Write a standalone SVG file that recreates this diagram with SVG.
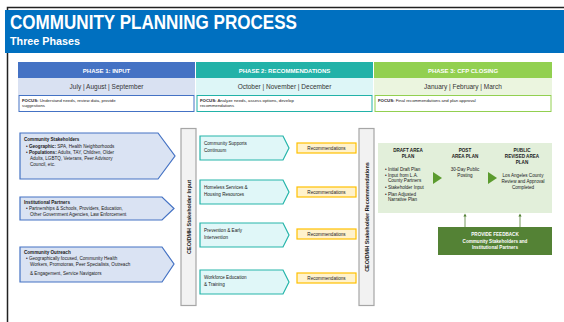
<svg xmlns="http://www.w3.org/2000/svg" width="564" height="322" viewBox="0 0 564 322">
<style>
text{font-family:"Liberation Sans",Arial,sans-serif}
.hd{fill:#fff;font-weight:bold;font-size:6px;text-anchor:middle}
.mo{fill:#333;font-size:6.5px;text-anchor:middle}
.fc{fill:#222;font-size:4.3px}
.sm{fill:#1a1a1a;font-size:4.6px}
.b{font-weight:bold}
.lb{fill:#DAE3F3;stroke:#4472C4;stroke-width:1.2}
.tl{fill:#E0F7F8;stroke:#26B5AA;stroke-width:1.2}
.yl{fill:#FFF2CC;stroke:#FFC000;stroke-width:1.2}
.vb{fill:#F2F2F2;stroke:#A6A6A6;stroke-width:1.2}
.vt{fill:#1a1a1a;font-size:5.5px;font-weight:bold;text-anchor:middle}
.gw{fill:#fff;font-weight:bold;font-size:4.6px;text-anchor:middle}
</style>
<defs>
<marker id="ah" viewBox="0 0 6 6" refX="3" refY="3" markerWidth="4" markerHeight="4" orient="auto"><path d="M0,0L6,3L0,6Z" fill="#548235"/></marker>
</defs>
<rect width="564" height="322" fill="#fff"/>
<rect x="7.5" y="7.5" width="570" height="320" fill="none" stroke="#222" stroke-width="1.5"/>
<g id="title">
<rect x="5" y="10" width="559" height="43" fill="#0070C0"/>
<text x="10" y="29" fill="#fff" font-weight="bold" font-size="19.5" textLength="287" lengthAdjust="spacingAndGlyphs">COMMUNITY PLANNING PROCESS</text>
<text x="10" y="45" fill="#fff" font-weight="bold" font-size="10" textLength="70" lengthAdjust="spacingAndGlyphs">Three Phases</text>
</g>
<g id="phase1">
<rect x="18" y="62" width="177" height="16" fill="#4472C4"/>
<text class="hd" x="106.5" y="72.5">PHASE 1: INPUT</text>
<rect x="18" y="78" width="177" height="17" fill="#D9E1F2"/>
<text class="mo" x="106.5" y="89">July  |  August  |  September</text>
<rect x="19" y="95.5" width="175" height="16" fill="#fff" stroke="#4472C4" stroke-width="1"/>
<text class="fc" x="22" y="101.5"><tspan class="b">FOCUS:</tspan> Understand needs, review data, provide</text>
<text class="fc" x="22" y="107">suggestions</text>
</g>
<g id="phase2">
<rect x="196" y="62" width="177" height="16" fill="#22B2A8"/>
<text class="hd" x="284.5" y="72.5">PHASE 2: RECOMMENDATIONS</text>
<rect x="196" y="78" width="177" height="17" fill="#DDF6F7"/>
<text class="mo" x="284.5" y="89">October  |  November  |  December</text>
<rect x="197" y="95.5" width="175" height="16" fill="#fff" stroke="#22B2A8" stroke-width="1"/>
<text class="fc" x="200" y="101.5"><tspan class="b">FOCUS:</tspan> Analyze needs, assess options, develop</text>
<text class="fc" x="200" y="107">recommendations</text>
</g>
<g id="phase3">
<rect x="374" y="62" width="178" height="16" fill="#92D050"/>
<text class="hd" x="463" y="72.5">PHASE 3: CFP CLOSING</text>
<rect x="374" y="78" width="178" height="17" fill="#EBF5DF"/>
<text class="mo" x="463" y="89">January  |  February  |  March</text>
<rect x="375" y="95.5" width="176" height="16" fill="#fff" stroke="#92D050" stroke-width="1"/>
<text class="fc" x="378" y="102"><tspan class="b">FOCUS:</tspan> Final recommendations and plan approval</text>
</g>
<g id="stakeholders">
<path class="lb" d="M20,133H158L175,156L158,179H20Z"/>
<text class="sm b" x="24" y="141">Community Stakeholders</text>
<text class="sm" x="26" y="148">• <tspan class="b">Geographic:</tspan> SPA, Health Neighborhoods</text>
<text class="sm" x="26" y="154">• <tspan class="b">Populations:</tspan> Adults, TAY, Children, Older</text>
<text class="sm" x="30" y="160">Adults, LGBTQ, Veterans, Peer Advisory</text>
<text class="sm" x="30" y="166">Council, etc.</text>
</g>
<g id="partners">
<path class="lb" d="M20,197H162L174,208.5L162,220H20Z"/>
<text class="sm b" x="24" y="204">Institutional Partners</text>
<text class="sm" x="26" y="210">• Partnerships &amp; Schools, Providers, Education,</text>
<text class="sm" x="30" y="216">Other Government Agencies, Law Enforcement</text>
</g>
<g id="outreach">
<path class="lb" d="M20,247H162L174,264L162,282H20Z"/>
<text class="sm b" x="24" y="254">Community Outreach</text>
<text class="sm" x="26" y="260">• Geographically focused, Community Health</text>
<text class="sm" x="30" y="266">Workers, Promotoras, Peer Specialists, Outreach</text>
<text class="sm" x="30" y="275">&amp; Engagement, Service Navigators</text>
</g>
<g id="bar1">
<rect class="vb" x="181" y="128.5" width="15" height="177"/>
<text class="vt" transform="translate(190.5,217) rotate(-90)">CEO/DMH Stakeholder Input</text>
</g>
<g id="continuum">
<path class="tl" d="M200,136H283L289,148L283,160H200Z"/>
<text class="sm" x="204" y="145">Community Supports</text>
<text class="sm" x="204" y="152">Continuum</text>
</g>
<g id="homeless">
<path class="tl" d="M200,180H283L289,192L283,204H200Z"/>
<text class="sm" x="204" y="189">Homeless Services &amp;</text>
<text class="sm" x="204" y="196">Housing Resources</text>
</g>
<g id="prevention">
<path class="tl" d="M200,223H283L289,235L283,247H200Z"/>
<text class="sm" x="204" y="232">Prevention &amp; Early</text>
<text class="sm" x="204" y="239">Intervention</text>
</g>
<g id="workforce">
<path class="tl" d="M200,270H283L289,282L283,294H200Z"/>
<text class="sm" x="204" y="279">Workforce Education</text>
<text class="sm" x="204" y="286">&amp; Training</text>
</g>
<g id="rec1"><rect class="yl" x="297" y="143" width="59" height="10"/><text class="sm" x="326.5" y="149.8" text-anchor="middle">Recommendations</text></g>
<g id="rec2"><rect class="yl" x="297" y="187" width="59" height="10"/><text class="sm" x="326.5" y="193.8" text-anchor="middle">Recommendations</text></g>
<g id="rec3"><rect class="yl" x="297" y="229" width="59" height="10"/><text class="sm" x="326.5" y="235.8" text-anchor="middle">Recommendations</text></g>
<g id="rec4"><rect class="yl" x="297" y="273" width="59" height="10"/><text class="sm" x="326.5" y="279.8" text-anchor="middle">Recommendations</text></g>
<g id="bar2">
<rect class="vb" x="359" y="128.5" width="15" height="177"/>
<text class="vt" transform="translate(368.5,217) rotate(-90)">CEO/DMH Stakeholder Recommendations</text>
</g>
<g id="closing">
<rect x="378" y="143" width="174" height="70" fill="#E2EFDA"/>
<text class="sm b" x="408" y="152" text-anchor="middle">DRAFT AREA</text>
<text class="sm b" x="408" y="158" text-anchor="middle">PLAN</text>
<text class="sm" x="385" y="171">• Initial Draft Plan</text>
<text class="sm" x="385" y="177">• Input from L.A.</text>
<text class="sm" x="388" y="182">County Partners</text>
<text class="sm" x="385" y="189">• Stakeholder Input</text>
<text class="sm" x="385" y="196">• Plan Adjusted</text>
<text class="sm" x="388" y="201">Narrative Plan</text>
<path d="M433,172L442,178L433,184Z" fill="#5B9B2E"/>
<text class="sm b" x="465" y="152" text-anchor="middle">POST</text>
<text class="sm b" x="465" y="158" text-anchor="middle">AREA PLAN</text>
<text class="sm" x="465" y="171" text-anchor="middle">30-Day Public</text>
<text class="sm" x="465" y="177" text-anchor="middle">Posting</text>
<path d="M488,172L497,178L488,184Z" fill="#5B9B2E"/>
<text class="sm b" x="522" y="152" text-anchor="middle">PUBLIC</text>
<text class="sm b" x="522" y="158" text-anchor="middle">REVISED AREA</text>
<text class="sm b" x="522" y="164" text-anchor="middle">PLAN</text>
<text class="sm" x="523" y="177" text-anchor="middle">Los Angeles County</text>
<text class="sm" x="523" y="183" text-anchor="middle">Review and Approval</text>
<text class="sm" x="523" y="189" text-anchor="middle">Completed</text>
</g>
<g id="connectors" stroke="#548235" stroke-width="0.8" fill="none">
<line x1="465" y1="227" x2="465" y2="215" marker-end="url(#ah)"/>
<line x1="520" y1="227" x2="520" y2="215" marker-end="url(#ah)"/>
</g>
<g id="feedback">
<rect x="438" y="227" width="114" height="28" fill="#548235"/>
<text class="gw" x="495" y="236">PROVIDE FEEDBACK</text>
<text class="gw" x="495" y="243" font-weight="normal">Community Stakeholders and</text>
<text class="gw" x="495" y="249" font-weight="normal">Institutional Partners</text>
</g>
</svg>
